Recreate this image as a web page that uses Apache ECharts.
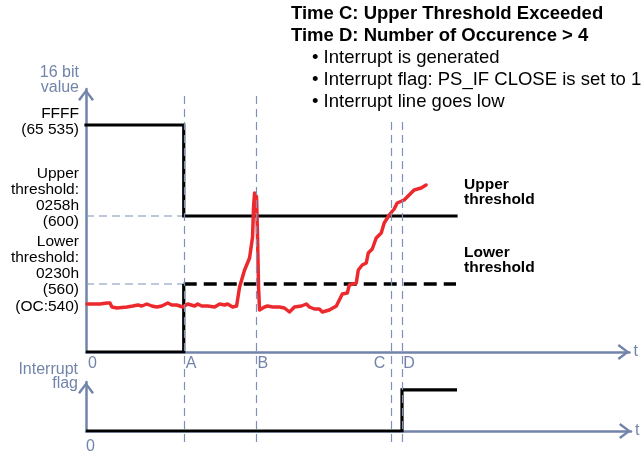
<!DOCTYPE html>
<html>
<head>
<meta charset="utf-8">
<script src="https://cdn.jsdelivr.net/npm/echarts@6/dist/echarts.min.js"></script>
<style>
  html, body { margin: 0; padding: 0; background: #fff; }
  #chart { width: 641px; height: 455px; }
</style>
</head>
<body>
<div id="chart"></div>
<script>
// time marks on the t axis (schematic units)
const timeNames = ["A", "B", "C", "D"];
const timeValues = [98, 170, 305, 316];
// how high each dashed time marker reaches (overlay units)
const markerTops = [349, 349, 320, 320];

// 16 bit value levels (schematic units)
const yLabelValues = [230, 154, 86, 45];
const yLabelTexts = [
  "FFFF\n(65 535)",
  "Upper\nthreshold:\n0258h\n(600)",
  "Lower\nthreshold:\n0230h\n(560)",
  "(OC:540)",
];

const upperLine = [[0, 227], [98, 227], [98, 136], [371, 136]];
const lowerSolid = [[0, 0], [98, 0], [98, 68]];
const lowerDashed = [[98, 68], [371, 68]];
const upperGuide = [[0, 136], [98, 136]];
const lowerGuide = [[0, 68], [98, 68]];

// measured proximity value (red)
const signal = [
  [1, 48], [14, 48], [21, 49], [24, 49], [26, 45], [31, 44], [41, 45], [47, 46],
  [52, 47], [56, 46], [61, 48], [66, 46], [71, 45], [76, 46], [82, 49], [86, 47],
  [91, 47], [94, 46], [97, 45], [102, 48], [109, 46], [112, 48], [116, 46], [122, 46],
  [129, 45], [134, 48], [139, 47], [142, 48], [147, 45], [151, 46],
  [154, 65], [159, 82], [164, 94], [167, 115], [168, 145], [169, 159], [171, 155],
  [172, 115], [173, 65], [174, 42],
  [179, 45], [182, 46], [187, 45], [194, 45], [199, 44], [204, 40], [209, 45], [216, 46],
  [221, 48], [224, 45], [229, 43], [234, 43], [237, 40], [244, 42], [251, 46],
  [255, 54], [257, 58], [262, 59], [264, 67], [271, 69], [273, 82], [277, 87], [281, 89],
  [283, 99], [287, 103], [291, 114], [296, 119], [299, 129], [304, 137], [309, 143],
  [312, 149], [319, 152], [324, 157], [329, 162], [336, 164], [341, 167],
];

const flagLine = [[0, 0], [316, 0], [316, 42], [371, 42]];

const axisColor = "#7284aa";
const guideColor = "#7f91b8";
const font = '"Liberation Sans", Arial, Helvetica, sans-serif';
// open chevron used as arrow head
const chevron = "path://M8,0 L16,10.5 L14,12 L8,3.8 L2,12 L0,10.5 Z";

const chart = echarts.init(document.getElementById("chart"));

const axisLine = {
  lineStyle: { color: axisColor, width: 2.5 },
  symbol: ["none", chevron],
  symbolSize: [16, 12],
  symbolOffset: [0, -6],
};

const option = {
  animation: false,
  textStyle: { fontFamily: font },
  title: [
    {
      text: "Time C: Upper Threshold Exceeded\nTime D: Number of Occurence > 4",
      left: 291,
      top: 3,
      padding: 0,
      textStyle: { fontSize: 18.5, fontWeight: "bold", color: "#000", lineHeight: 22, fontFamily: font },
    },
    {
      text: "• Interrupt is generated\n• Interrupt flag: PS_IF CLOSE is set to 1\n• Interrupt line goes low",
      left: 312,
      top: 47,
      padding: 0,
      textStyle: { fontSize: 18.5, fontWeight: "normal", color: "#000", lineHeight: 22, fontFamily: font },
    },
  ],
  grid: [
    { left: 86, right: 10, top: 89, bottom: 103 },
    { left: 86, right: 10, top: 382, bottom: 23 },
    { left: 86, right: 10, top: 93, bottom: 13 },
  ],
  xAxis: [
    {
      gridIndex: 0, type: "value", min: 0, max: 545,
      name: "t", nameLocation: "end", nameGap: 4,
      nameTextStyle: { color: axisColor, fontSize: 16, align: "left" },
      axisLine: axisLine, axisTick: { show: false }, splitLine: { show: false },
      axisLabel: {
        customValues: [0, timeValues[0], timeValues[1], timeValues[3]],
        formatter: (v) => (v === 0 ? "0" : timeNames[timeValues.indexOf(v)]),
        color: axisColor, fontSize: 16, align: "left", margin: 4, padding: [0, 0, 0, 2],
      },
    },
    {
      // only the "C" label, sits left of its line
      gridIndex: 0, type: "value", min: 0, max: 545, position: "bottom", offset: 0,
      axisLine: { show: false }, axisTick: { show: false }, splitLine: { show: false },
      axisLabel: {
        customValues: [timeValues[2]],
        formatter: () => timeNames[2],
        color: axisColor, fontSize: 16, align: "right", margin: 4, padding: [0, 5, 0, 0],
      },
    },
    {
      gridIndex: 1, type: "value", min: 0, max: 545,
      name: "t", nameLocation: "end", nameGap: 4,
      nameTextStyle: { color: axisColor, fontSize: 16, align: "left" },
      axisLine: axisLine, axisTick: { show: false }, splitLine: { show: false },
      axisLabel: {
        customValues: [0],
        formatter: () => "0",
        color: axisColor, fontSize: 16, align: "left", margin: 8, padding: [0, 0, 0, 0],
      },
    },
    { gridIndex: 2, type: "value", min: 0, max: 545, show: false },
  ],
  yAxis: [
    {
      gridIndex: 0, type: "value", min: 0, max: 263,
      name: "16 bit\nvalue", nameLocation: "end", nameGap: -6,
      nameTextStyle: { color: axisColor, fontSize: 16, lineHeight: 15, align: "right", verticalAlign: "bottom", padding: [0, 7, 0, 0] },
      axisLine: axisLine, axisTick: { show: false }, splitLine: { show: false },
      axisLabel: {
        customValues: yLabelValues,
        formatter: (v) => yLabelTexts[yLabelValues.indexOf(v)],
        color: "#000", fontSize: 15.5, lineHeight: 16, margin: 7,
      },
    },
    {
      gridIndex: 1, type: "value", min: 0, max: 50,
      name: "Interrupt\nflag", nameLocation: "end", nameGap: -9,
      nameTextStyle: { color: axisColor, fontSize: 16, lineHeight: 14, align: "right", verticalAlign: "bottom", padding: [0, 8, 0, 0] },
      axisLine: axisLine, axisTick: { show: false }, splitLine: { show: false },
      axisLabel: { show: false },
    },
    { gridIndex: 2, type: "value", min: 0, max: 349, show: false },
  ],
  series: [
    {
      // time markers A B C D
      type: "line", xAxisIndex: 3, yAxisIndex: 2, data: [], z: 1,
      markLine: {
        silent: true, symbol: "none", label: { show: false },
        lineStyle: { color: guideColor, width: 1.2, type: [8, 5] },
        data: timeValues.map((v, i) => [{ coord: [v, 0] }, { coord: [v, markerTops[i]] }]),
      },
    },
    {
      type: "line", xAxisIndex: 0, yAxisIndex: 0, data: upperGuide, showSymbol: false, z: 2,
      lineStyle: { color: guideColor, width: 1.2, type: [8, 5] },
    },
    {
      type: "line", xAxisIndex: 0, yAxisIndex: 0, data: lowerGuide, showSymbol: false, z: 2,
      lineStyle: { color: guideColor, width: 1.2, type: [8, 5] },
    },
    {
      type: "line", xAxisIndex: 0, yAxisIndex: 0, data: upperLine, showSymbol: false, z: 3,
      lineStyle: { color: "#000", width: 3.2, cap: "square", join: "miter" },
      endLabel: {
        show: true, formatter: "Upper\nthreshold", color: "#000", fontSize: 15.5, fontWeight: "bold",
        lineHeight: 15, distance: 8, offset: [0, -24],
      },
    },
    {
      type: "line", xAxisIndex: 0, yAxisIndex: 0, data: lowerSolid, showSymbol: false, z: 3,
      lineStyle: { color: "#000", width: 3.2, join: "miter" },
    },
    {
      type: "line", xAxisIndex: 0, yAxisIndex: 0, data: lowerDashed, showSymbol: false, z: 3,
      lineStyle: { color: "#000", width: 3.5, type: [13, 7] },
      endLabel: {
        show: true, formatter: "Lower\nthreshold", color: "#000", fontSize: 15.5, fontWeight: "bold",
        lineHeight: 15, distance: 8, offset: [0, -24],
      },
    },
    {
      type: "line", xAxisIndex: 0, yAxisIndex: 0, data: signal, showSymbol: false, z: 4,
      lineStyle: { color: "#ec2a2e", width: 3.5, join: "round", cap: "round" },
    },
    {
      type: "line", xAxisIndex: 2, yAxisIndex: 1, data: flagLine, showSymbol: false, z: 3,
      lineStyle: { color: "#000", width: 3.2, join: "miter" },
    },
  ],
};

chart.setOption(option);
</script>
</body>
</html>
